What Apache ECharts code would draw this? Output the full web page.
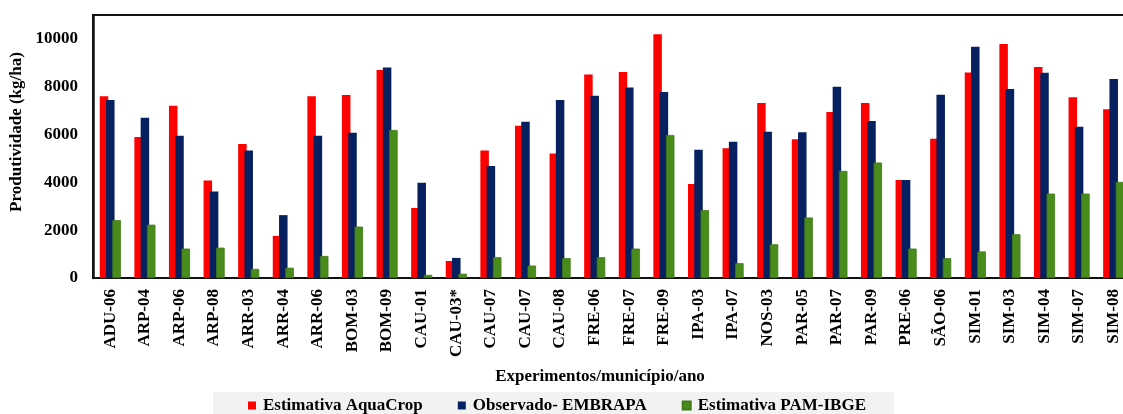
<!DOCTYPE html>
<html>
<head>
<meta charset="utf-8">
<title>Produtividade por experimento</title>
<script src="https://cdn.jsdelivr.net/npm/echarts@6/dist/echarts.min.js"></script>
<style>
  html, body { margin: 0; padding: 0; background: #fff; overflow: hidden; }
  /* the plot runs slightly past the right edge of the page */
  #chart { width: 1140px; height: 414px; }
</style>
</head>
<body>
<div id="chart"></div>
<script>
// Experimentos (município-ano)
const categories = [
  'ADU-06', 'ARP-04', 'ARP-06', 'ARP-08', 'ARR-03', 'ARR-04', 'ARR-06', 'BOM-03',
  'BOM-09', 'CAU-01', 'CAU-03*', 'CAU-07', 'CAU-07 ', 'CAU-08', 'FRE-06', 'FRE-07',
  'FRE-09', 'IPA-03', 'IPA-07', 'NOS-03', 'PAR-05', 'PAR-07', 'PAR-09', 'PRE-06',
  'SÃO-06', 'SIM-01', 'SIM-03', 'SIM-04', 'SIM-07', 'SIM-08'
];

// Produtividade (kg/ha)
const aquaCrop = [
  7600, 5900, 7200, 4080, 5600, 1760, 7600, 7650,
  8700, 2930, 710, 5330, 6370, 5210, 8510, 8620,
  10200, 3930, 5430, 7320, 5800, 6940, 7320, 4100,
  5820, 8600, 9790, 8830, 7560, 7060
];
const embrapa = [
  7450, 6700, 5950, 3620, 5330, 2630, 5950, 6080,
  8800, 3980, 840, 4680, 6540, 7450, 7620, 7970,
  7780, 5360, 5700, 6120, 6100, 8000, 6570, 4100,
  7660, 9670, 7900, 8580, 6330, 8320
];
const pamIbge = [
  2420, 2230, 1230, 1270, 380, 430, 920, 2150,
  6190, 130, 180, 870, 520, 830, 870, 1230,
  5980, 2840, 620, 1410, 2530, 4480, 4830, 1230,
  830, 1110, 1830, 3530, 3530, 4020
];

const yTicks = { min: 0, max: 11000, interval: 2000 };

const FONT = "'Liberation Serif', 'Times New Roman', serif";
const textStyle = { fontFamily: FONT, fontWeight: 'bold', fontSize: 17, color: '#000' };

const chart = echarts.init(document.getElementById('chart'), null, { renderer: 'canvas' });

chart.setOption({
  animation: false,
  backgroundColor: '#ffffff',
  textStyle: { fontFamily: FONT },
  grid: {
    left: 93, right: 9, top: 15, bottom: 136,
    show: true, borderColor: '#111', borderWidth: 2, backgroundColor: 'transparent'
  },
  legend: {
    left: 213, top: 392,
    padding: [5, 28, 8, 35],
    backgroundColor: '#f2f2f2',
    itemWidth: 8, itemHeight: 8, itemGap: 35,
    icon: 'rect',
    textStyle: Object.assign({}, textStyle, { padding: [0, 0, 0, 2] }),
    data: ['Estimativa AquaCrop', 'Observado- EMBRAPA', 'Estimativa PAM-IBGE']
  },
  xAxis: {
    type: 'category',
    data: categories,
    axisLine: { lineStyle: { color: '#111', width: 2 } },
    axisTick: { show: false },
    axisLabel: Object.assign({}, textStyle, {
      rotate: 90, margin: 11, interval: 0,
      formatter: v => v.trim()
    })
  },
  yAxis: {
    type: 'value',
    min: yTicks.min, max: yTicks.max, interval: yTicks.interval,
    axisLine: { show: true, lineStyle: { color: '#111', width: 2.5 } },
    axisTick: { show: false },
    splitLine: { show: false },
    axisLabel: Object.assign({}, textStyle, {
      margin: 15, showMaxLabel: false,
      formatter: v => String(v)
    })
  },
  graphic: [
    {
      type: 'text', x: 17, y: 132, rotation: Math.PI / 2,
      style: { text: 'Produtividade (kg/ha)', textAlign: 'center', textVerticalAlign: 'middle',
        font: "bold 17px " + FONT, fill: '#000' }
    },
    {
      type: 'text', x: 600, y: 377,
      style: { text: 'Experimentos/município/ano', textAlign: 'center', textVerticalAlign: 'middle',
        font: "bold 17px " + FONT, fill: '#000' }
    }
  ],
  series: [
    {
      name: 'Estimativa AquaCrop', type: 'bar', data: aquaCrop,
      barWidth: 8.5, barGap: '-26%',
      itemStyle: { color: '#ff0000' }
    },
    {
      name: 'Observado- EMBRAPA', type: 'bar', data: embrapa,
      barWidth: 8.5, barGap: '-26%',
      itemStyle: { color: '#062060' }
    },
    {
      name: 'Estimativa PAM-IBGE', type: 'bar', data: pamIbge,
      barWidth: 8.5, barGap: '-26%',
      itemStyle: { color: '#4a8c1c', borderColor: '#3f7a16', borderWidth: 0.8 }
    }
  ]
});
</script>
</body>
</html>
